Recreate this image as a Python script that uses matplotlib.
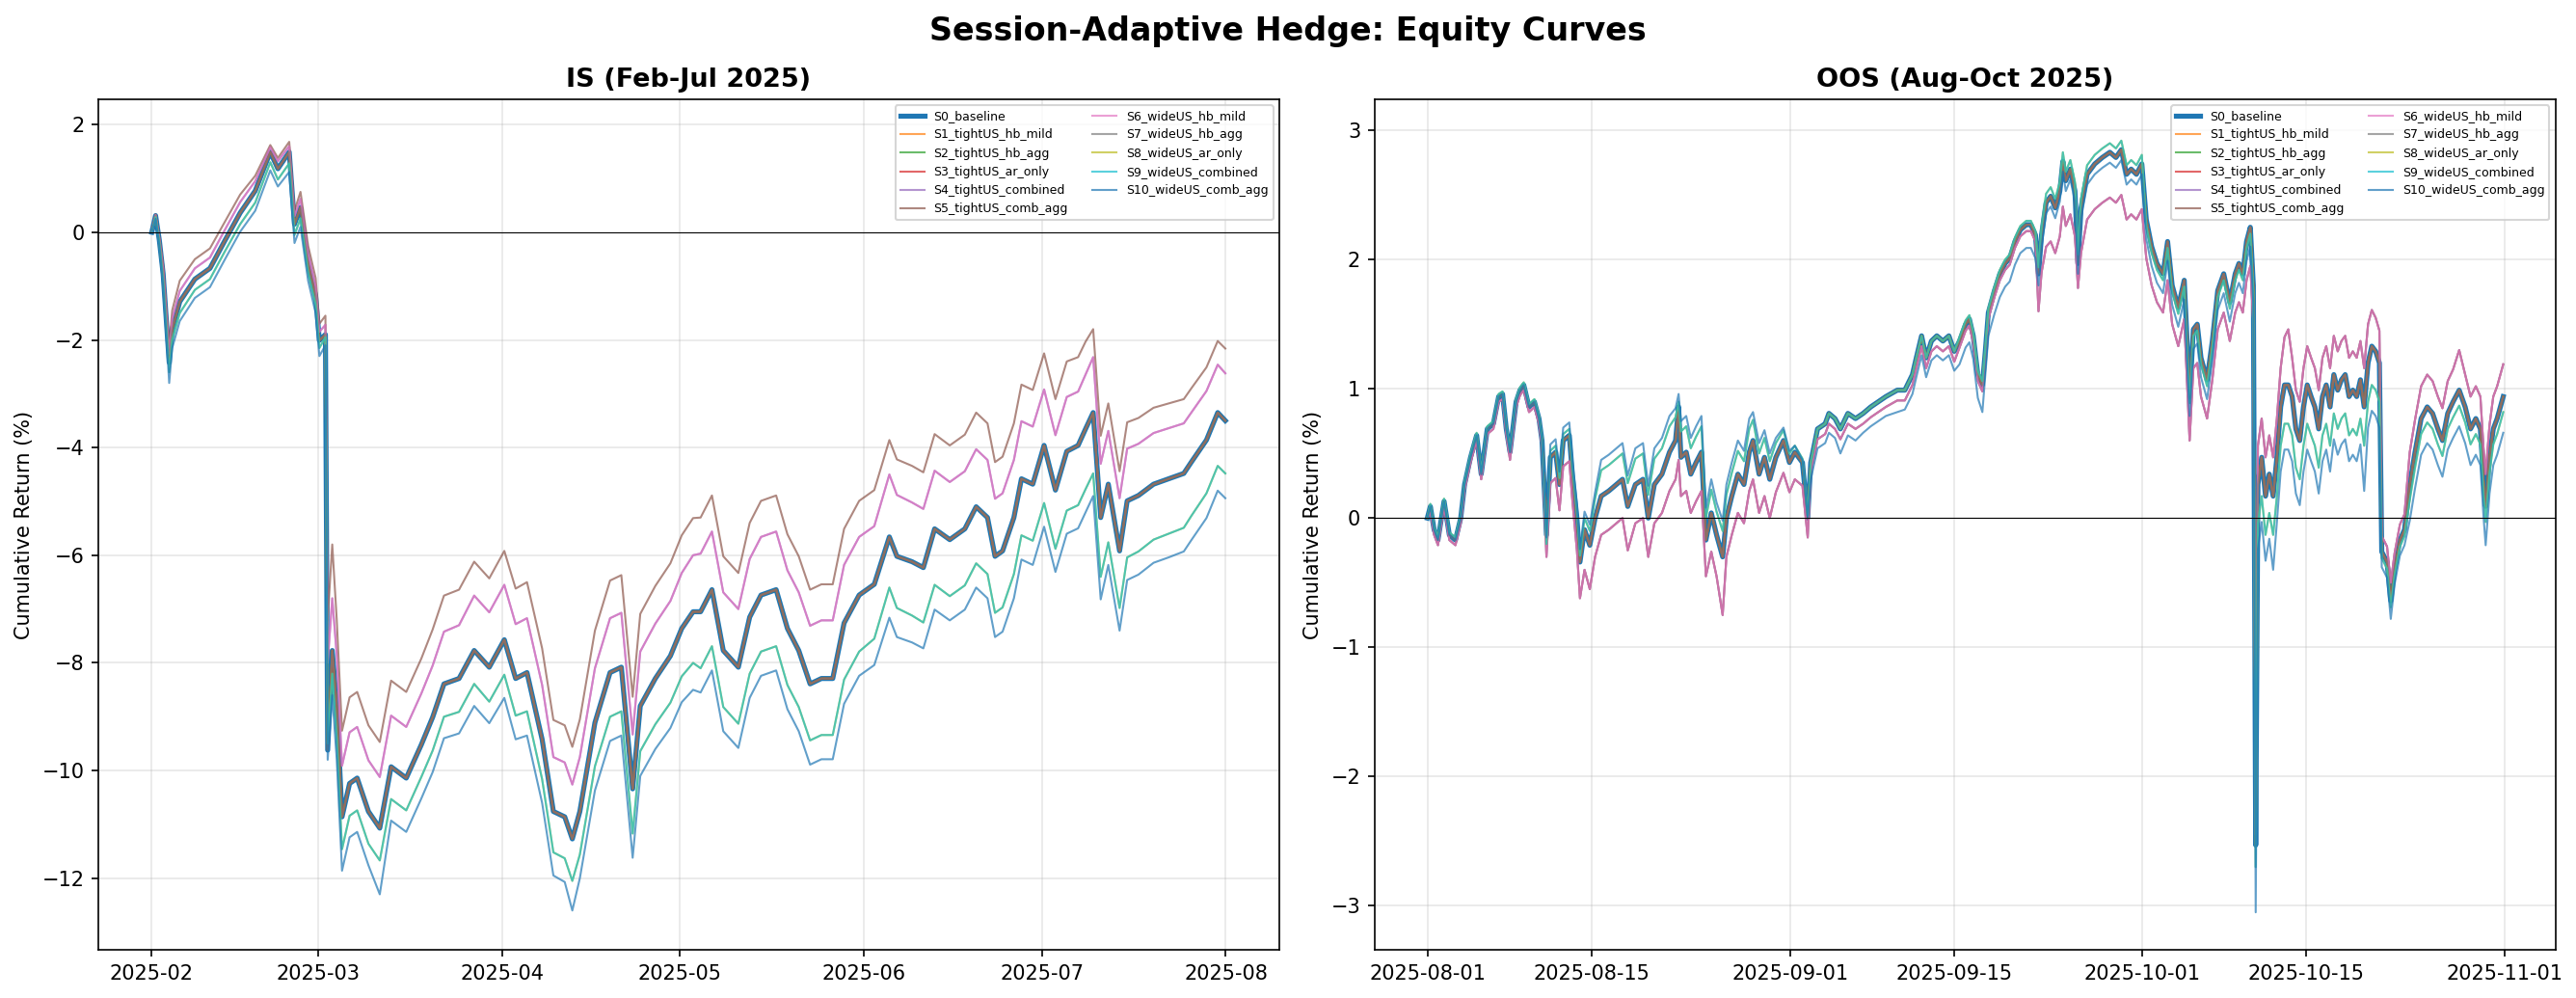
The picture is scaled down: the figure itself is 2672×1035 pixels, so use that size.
import matplotlib
matplotlib.use("Agg")
import matplotlib.pyplot as plt
import matplotlib.dates as mdates
import pandas as pd

# ---------------- IS data (days since 2025-02-01, cumulative return %) ----------------
is_days = [0, 0.64, 1.27, 1.91, 2.55, 2.93, 3.44, 4.71, 7.26, 9.80, 12.34, 14.89, 17.43, 19.97,
           21.25, 23.16, 24.05, 25.06, 26.34, 27.61, 28.24, 29.26, 29.64, 30.41, 31.17, 32.06,
           33.33, 34.61, 36.51, 38.42, 40.33, 42.88, 45.42, 47.33, 49.24, 51.78, 54.33, 56.87,
           59.41, 61.32, 63.23, 65.78, 67.68, 69.59, 70.87, 72.14, 74.68, 77.23, 79.13, 81.04,
           82.32, 84.86, 87.40, 89.31, 91.22, 92.49, 94.40, 96.31, 98.85, 100.76, 102.67, 105.22,
           107.12, 109.03, 110.94, 112.85, 114.76, 116.67, 119.21, 121.76, 124.30, 125.57, 128.12,
           130.03, 131.93, 134.48, 137.02, 138.93, 140.84, 142.11, 143.38, 145.29, 146.56, 148.47,
           150.38, 152.29, 154.20, 156.11, 157.38, 158.65, 159.92, 161.20, 163.10, 164.38, 166.28,
           168.83, 171.37, 173.92, 175.19, 177.74, 179.64, 180.92]
is_base = [0.00, 0.31, -0.15, -0.77, -1.80, -2.42, -1.80, -1.29, -0.87, -0.67, -0.15, 0.36, 0.77, 1.49,
           1.18, 1.49, 0.15, 0.46, -0.57, -1.18, -2.01, -1.90, -9.62, -7.77, -8.80, -10.86,
           -10.24, -10.14, -10.76, -11.07, -9.93, -10.14, -9.52, -9.01, -8.39, -8.29, -7.77, -8.08,
           -7.57, -8.29, -8.18, -9.42, -10.76, -10.86, -11.27, -10.76, -9.11, -8.18, -8.08, -10.34,
           -8.80, -8.29, -7.87, -7.36, -7.05, -7.05, -6.64, -7.77, -8.08, -7.15, -6.74, -6.64,
           -7.36, -7.77, -8.39, -8.29, -8.29, -7.26, -6.74, -6.54, -5.66, -6.02, -6.12,
           -6.23, -5.51, -5.71, -5.51, -5.10, -5.30, -6.02, -5.92, -5.30, -4.58, -4.68,
           -3.96, -4.79, -4.07, -3.96, -3.65, -3.35, -5.30, -4.68, -5.92, -4.99, -4.89,
           -4.68, -4.58, -4.48, -4.27, -3.86, -3.35, -3.50]
is_brown = [0.00, 0.33, -0.08, -0.60, -1.55, -2.10, -1.45, -0.90, -0.50, -0.30, 0.20, 0.70, 1.05, 1.62,
            1.38, 1.68, 0.40, 0.75, -0.25, -0.85, -1.70, -1.55, -7.20, -5.80, -7.20, -9.26,
            -8.64, -8.54, -9.16, -9.47, -8.33, -8.54, -7.92, -7.38, -6.75, -6.64, -6.12, -6.43,
            -5.92, -6.62, -6.50, -7.73, -9.06, -9.16, -9.56, -9.05, -7.40, -6.47, -6.37, -8.63,
            -7.09, -6.57, -6.15, -5.63, -5.31, -5.30, -4.89, -6.02, -6.33, -5.40, -4.99, -4.89,
            -5.61, -6.02, -6.64, -6.54, -6.54, -5.51, -4.99, -4.79, -3.86, -4.22, -4.34,
            -4.46, -3.75, -3.96, -3.76, -3.35, -3.55, -4.27, -4.17, -3.55, -2.83, -2.93,
            -2.25, -3.10, -2.40, -2.32, -2.03, -1.80, -3.78, -3.18, -4.44, -3.53, -3.45,
            -3.26, -3.18, -3.10, -2.90, -2.51, -2.02, -2.16]
is_magenta = [0.00, 0.32, -0.11, -0.67, -1.65, -2.25, -1.60, -1.09, -0.67, -0.47, 0.05, 0.56, 0.95, 1.58,
              1.32, 1.60, 0.30, 0.62, -0.40, -1.00, -1.85, -1.72, -8.00, -6.80, -7.85, -9.91,
              -9.29, -9.19, -9.81, -10.12, -8.98, -9.19, -8.57, -8.05, -7.42, -7.30, -6.75, -7.06,
              -6.55, -7.28, -7.17, -8.41, -9.75, -9.85, -10.26, -9.75, -8.10, -7.17, -7.07, -9.33,
              -7.79, -7.27, -6.85, -6.33, -6.00, -5.97, -5.56, -6.69, -7.00, -6.07, -5.66, -5.56,
              -6.28, -6.69, -7.31, -7.21, -7.21, -6.18, -5.66, -5.46, -4.50, -4.88, -5.02,
              -5.14, -4.43, -4.64, -4.44, -4.03, -4.23, -4.95, -4.85, -4.23, -3.51, -3.61,
              -2.92, -3.77, -3.06, -2.96, -2.64, -2.32, -4.30, -3.69, -4.94, -4.02, -3.93,
              -3.73, -3.64, -3.55, -3.35, -2.95, -2.46, -2.62]
is_teal = [0.00, 0.28, -0.20, -0.90, -1.95, -2.60, -2.00, -1.50, -1.07, -0.87, -0.35, 0.15, 0.55, 1.30,
           0.98, 1.28, -0.05, 0.26, -0.75, -1.35, -2.15, -1.95, -9.50, -8.20, -9.40, -11.46,
           -10.84, -10.74, -11.36, -11.67, -10.53, -10.74, -10.12, -9.63, -9.00, -8.91, -8.39, -8.72,
           -8.22, -8.98, -8.90, -10.16, -11.52, -11.63, -12.05, -11.56, -9.92, -9.00, -8.90, -11.17,
           -9.64, -9.14, -8.74, -8.25, -8.00, -8.10, -7.69, -8.82, -9.13, -8.20, -7.79, -7.69,
           -8.41, -8.82, -9.44, -9.34, -9.34, -8.31, -7.79, -7.55, -6.60, -6.98, -7.12,
           -7.25, -6.55, -6.76, -6.56, -6.15, -6.35, -7.07, -6.97, -6.35, -5.63, -5.73,
           -5.03, -5.88, -5.17, -5.07, -4.77, -4.48, -6.40, -5.76, -6.98, -6.04, -5.93,
           -5.71, -5.60, -5.49, -5.27, -4.85, -4.34, -4.48]
is_blue = [0.00, 0.25, -0.25, -1.00, -2.10, -2.80, -2.15, -1.65, -1.22, -1.02, -0.50, 0.01, 0.40, 1.15,
           0.85, 1.12, -0.20, 0.10, -0.90, -1.50, -2.30, -2.10, -9.80, -8.60, -9.80, -11.86,
           -11.24, -11.14, -11.76, -12.30, -10.93, -11.14, -10.52, -10.03, -9.40, -9.31, -8.80, -9.12,
           -8.65, -9.42, -9.35, -10.60, -11.95, -12.07, -12.60, -12.00, -10.37, -9.45, -9.35, -11.62,
           -10.10, -9.60, -9.21, -8.73, -8.50, -8.55, -8.14, -9.27, -9.58, -8.65, -8.24, -8.14,
           -8.86, -9.27, -9.89, -9.79, -9.79, -8.76, -8.24, -8.04, -7.16, -7.52, -7.62,
           -7.73, -7.01, -7.21, -7.01, -6.60, -6.80, -7.52, -7.42, -6.80, -6.08, -6.18,
           -5.47, -6.31, -5.60, -5.50, -5.20, -4.90, -6.82, -6.18, -7.40, -6.46, -6.36,
           -6.14, -6.04, -5.93, -5.72, -5.31, -4.80, -4.94]

# ---------------- OOS data (days since 2025-08-01, cumulative return %) ----------------
oos_days = [0.00, 0.26, 0.58, 0.91, 1.43, 1.88, 2.40, 2.85, 3.18, 3.69, 4.21, 4.60, 5.12, 5.64, 6.09,
            6.42, 6.74, 7.06, 7.58, 7.91, 8.23, 8.68, 9.14, 9.53, 9.79, 10.17, 10.50, 10.95, 11.28,
            11.60, 12.12, 12.38, 12.77, 13.03, 13.42, 13.87, 14.32, 14.84, 15.49, 16.14, 16.66,
            17.11, 17.76, 18.41, 18.86, 19.38, 20.03, 20.67, 21.19, 21.45, 21.65, 22.10, 22.49,
            22.94, 23.40, 23.78, 24.24, 24.69, 25.21, 25.53, 25.99, 26.51, 27.03, 27.48, 27.80,
            28.32, 28.78, 29.23, 29.75, 30.40, 30.91, 31.37, 32.02, 32.47, 32.73, 33.31, 33.96,
            34.28, 34.80, 35.26, 35.90, 36.55, 37.20, 37.85, 38.50, 39.14, 40.12, 40.76, 41.41,
            41.74, 42.19, 42.58, 43.03, 43.49, 44.01, 44.52, 44.98, 45.43, 45.95, 46.27, 46.60,
            46.99, 47.38, 47.63, 47.89, 48.41, 48.87, 49.32, 49.71, 50.16, 50.62, 51.13, 51.52,
            51.91, 52.17, 52.43, 52.82, 53.21, 53.60, 53.99, 54.25, 54.50, 54.89, 55.28, 55.54,
            55.80, 56.32, 56.97, 57.62, 58.26, 58.78, 59.24, 59.69, 60.08, 60.53, 60.99, 61.37,
            61.83, 62.28, 62.80, 63.19, 63.58, 64.10, 64.61, 65.07, 65.39, 65.72, 66.04, 66.56,
            67.01, 67.47, 67.98, 68.50, 68.96, 69.28, 69.61, 69.93, 70.25, 70.51, 70.71, 70.90,
            71.22, 71.55, 71.87, 72.20, 72.52, 72.84, 73.17, 73.49, 73.82, 74.14, 74.47, 74.79,
            75.11, 75.44, 75.76, 76.09, 76.41, 76.73, 77.06, 77.38, 77.71, 78.03, 78.35, 78.68,
            79.00, 79.33, 79.65, 79.97, 80.30, 80.62, 80.95, 81.27, 81.47, 81.92, 82.24, 82.57,
            83.02, 83.41, 83.86, 84.31, 84.83, 85.35, 85.81, 86.26, 86.65, 87.10, 87.56, 88.08,
            88.59, 89.05, 89.50, 89.89, 90.15, 90.34, 90.67, 90.99, 91.32, 91.84]
oos_base = [0.00, 0.09, -0.09, -0.17, 0.13, -0.13, -0.17, 0.00, 0.26, 0.47, 0.64, 0.34, 0.69, 0.73, 0.94,
            0.96, 0.69, 0.51, 0.90, 0.99, 1.03, 0.86, 0.90, 0.77, 0.60, -0.13, 0.47, 0.51, 0.26,
            0.60, 0.64, 0.34, 0.00, -0.34, -0.09, -0.21, 0.00, 0.17, 0.21, 0.26, 0.30,
            0.09, 0.26, 0.30, 0.00, 0.26, 0.34, 0.51, 0.60, 0.86, 0.47, 0.51, 0.34,
            0.43, 0.51, -0.17, 0.04, -0.13, -0.30, 0.00, 0.17, 0.34, 0.26, 0.51, 0.60,
            0.34, 0.47, 0.30, 0.47, 0.60, 0.43, 0.51, 0.43, 0.00, 0.43, 0.69, 0.73,
            0.81, 0.77, 0.69, 0.81, 0.77, 0.81, 0.86, 0.90, 0.94, 0.99, 0.99, 1.11,
            1.24, 1.41, 1.24, 1.37, 1.41, 1.37, 1.41, 1.29, 1.37, 1.50, 1.54, 1.41,
            1.11, 1.03, 1.29, 1.59, 1.76, 1.89, 1.97, 2.01, 2.14, 2.23, 2.27, 2.27,
            2.19, 1.89, 2.19, 2.44, 2.49, 2.40, 2.53, 2.76, 2.61, 2.70, 2.53, 1.97,
            2.40, 2.66, 2.74, 2.79, 2.83, 2.79, 2.85, 2.66, 2.70, 2.66, 2.74, 2.31,
            2.10, 1.97, 1.89, 2.14, 1.80, 1.63, 1.84, 0.94, 1.46, 1.50, 1.24, 1.07,
            1.37, 1.76, 1.89, 1.67, 1.89, 1.97, 1.89, 2.14, 2.25, 1.80, -2.53, 0.26,
            0.47, 0.17, 0.34, 0.17, 0.47, 0.86, 1.03, 1.03, 0.94, 0.69, 0.60, 0.86,
            1.03, 0.94, 0.86, 0.69, 0.94, 1.03, 0.86, 1.11, 0.99, 1.07, 1.11, 0.94,
            0.99, 0.94, 1.07, 0.86, 1.20, 1.33, 1.29, 1.20, -0.26, -0.34, -0.64, -0.39,
            -0.17, -0.09, 0.26, 0.51, 0.77, 0.86, 0.81, 0.69, 0.60, 0.81, 0.90, 0.99,
            0.86, 0.69, 0.77, 0.69, 0.30, 0.09, 0.47, 0.69, 0.77, 0.94]
oos_brown = [0.00, 0.05, -0.13, -0.21, 0.09, -0.17, -0.21, -0.04, 0.22, 0.43, 0.60, 0.30, 0.65, 0.69, 0.90,
             0.92, 0.65, 0.45, 0.86, 0.95, 0.99, 0.82, 0.86, 0.73, 0.56, -0.30, 0.27, 0.31, 0.06,
             0.40, 0.44, 0.14, -0.25, -0.62, -0.40, -0.55, -0.30, -0.13, -0.09, -0.04, 0.00,
             -0.25, -0.04, 0.00, -0.30, -0.04, 0.04, 0.21, 0.30, 0.45, 0.17, 0.21, 0.04,
             0.13, 0.21, -0.45, -0.26, -0.45, -0.75, -0.30, -0.13, 0.04, -0.04, 0.21, 0.30,
             0.04, 0.17, 0.00, 0.20, 0.35, 0.20, 0.30, 0.25, -0.15, 0.35, 0.61, 0.65,
             0.73, 0.69, 0.61, 0.73, 0.69, 0.73, 0.78, 0.82, 0.86, 0.91, 0.91, 1.03,
             1.16, 1.33, 1.16, 1.29, 1.33, 1.29, 1.33, 1.21, 1.32, 1.45, 1.49, 1.36,
             1.06, 0.98, 1.24, 1.54, 1.71, 1.84, 1.92, 1.96, 2.09, 2.18, 2.22, 2.22,
             2.14, 1.60, 1.90, 2.10, 2.14, 2.05, 2.18, 2.41, 2.26, 2.35, 2.18, 1.78,
             2.05, 2.31, 2.39, 2.44, 2.48, 2.44, 2.50, 2.31, 2.35, 2.31, 2.39, 2.01,
             1.80, 1.67, 1.59, 1.84, 1.50, 1.33, 1.54, 0.60, 1.16, 1.20, 0.94, 0.77,
             1.07, 1.46, 1.59, 1.37, 1.59, 1.67, 1.59, 1.84, 1.95, 1.50, -2.45, 0.56,
             0.77, 0.47, 0.64, 0.47, 0.77, 1.16, 1.40, 1.46, 1.24, 0.99, 0.90, 1.16,
             1.33, 1.24, 1.16, 0.99, 1.24, 1.33, 1.16, 1.41, 1.29, 1.37, 1.41, 1.24,
             1.29, 1.24, 1.37, 1.16, 1.50, 1.61, 1.55, 1.45, -0.14, -0.22, -0.50, -0.27,
             -0.05, 0.03, 0.51, 0.76, 1.02, 1.11, 1.06, 0.94, 0.85, 1.06, 1.15, 1.30,
             1.11, 0.94, 1.02, 0.94, 0.55, 0.34, 0.72, 0.94, 1.02, 1.19]
oos_teal = [0.00, 0.11, -0.07, -0.15, 0.15, -0.11, -0.15, 0.02, 0.28, 0.49, 0.66, 0.36, 0.71, 0.75, 0.96,
            0.98, 0.71, 0.53, 0.92, 1.01, 1.05, 0.88, 0.92, 0.79, 0.62, -0.20, 0.52, 0.56, 0.31,
            0.65, 0.69, 0.39, 0.05, -0.29, 0.00, -0.10, 0.15, 0.37, 0.41, 0.46, 0.50,
            0.27, 0.46, 0.50, 0.18, 0.46, 0.54, 0.71, 0.78, 0.90, 0.67, 0.71, 0.54,
            0.63, 0.71, 0.00, 0.22, 0.05, -0.10, 0.18, 0.35, 0.52, 0.44, 0.69, 0.76,
            0.50, 0.62, 0.44, 0.58, 0.68, 0.50, 0.56, 0.46, 0.02, 0.43, 0.69, 0.73,
            0.81, 0.77, 0.69, 0.81, 0.77, 0.81, 0.86, 0.90, 0.94, 0.99, 0.99, 1.11,
            1.24, 1.41, 1.24, 1.37, 1.41, 1.37, 1.41, 1.29, 1.40, 1.53, 1.57, 1.44,
            1.14, 1.06, 1.32, 1.62, 1.79, 1.92, 2.00, 2.04, 2.17, 2.26, 2.30, 2.30,
            2.22, 1.94, 2.25, 2.51, 2.56, 2.47, 2.60, 2.83, 2.68, 2.77, 2.60, 2.04,
            2.47, 2.73, 2.81, 2.86, 2.90, 2.86, 2.92, 2.73, 2.77, 2.73, 2.81, 2.26,
            2.05, 1.92, 1.84, 2.09, 1.75, 1.58, 1.79, 0.89, 1.41, 1.45, 1.19, 1.02,
            1.32, 1.71, 1.84, 1.62, 1.84, 1.92, 1.84, 2.09, 2.20, 1.75, -2.70, -0.04,
            0.17, -0.13, 0.04, -0.13, 0.17, 0.56, 0.73, 0.73, 0.64, 0.39, 0.30, 0.56,
            0.73, 0.64, 0.56, 0.39, 0.64, 0.73, 0.56, 0.81, 0.69, 0.77, 0.81, 0.64,
            0.69, 0.64, 0.77, 0.56, 0.90, 1.03, 0.99, 0.90, -0.31, -0.39, -0.69, -0.44,
            -0.22, -0.14, 0.14, 0.39, 0.65, 0.74, 0.69, 0.57, 0.48, 0.69, 0.78, 0.87,
            0.74, 0.57, 0.65, 0.57, 0.18, -0.03, 0.35, 0.57, 0.65, 0.82]
oos_blue = [0.00, 0.09, -0.09, -0.17, 0.13, -0.13, -0.17, 0.00, 0.26, 0.47, 0.64, 0.34, 0.69, 0.73, 0.94,
            0.96, 0.69, 0.51, 0.90, 0.99, 1.03, 0.86, 0.90, 0.77, 0.60, -0.15, 0.57, 0.61, 0.36,
            0.70, 0.74, 0.44, 0.10, -0.24, 0.05, -0.05, 0.20, 0.45, 0.49, 0.54, 0.58,
            0.33, 0.54, 0.58, 0.25, 0.54, 0.62, 0.79, 0.85, 0.96, 0.75, 0.79, 0.62,
            0.71, 0.79, 0.08, 0.30, 0.12, -0.02, 0.26, 0.43, 0.60, 0.52, 0.77, 0.82,
            0.58, 0.68, 0.50, 0.62, 0.70, 0.52, 0.56, 0.45, 0.00, 0.30, 0.54, 0.58,
            0.66, 0.62, 0.50, 0.64, 0.60, 0.66, 0.71, 0.75, 0.79, 0.82, 0.84, 0.96,
            1.09, 1.26, 1.09, 1.22, 1.26, 1.22, 1.26, 1.14, 1.19, 1.32, 1.36, 1.23,
            0.93, 0.82, 1.11, 1.41, 1.58, 1.71, 1.79, 1.83, 1.96, 2.05, 2.09, 2.09,
            2.01, 1.80, 2.10, 2.36, 2.41, 2.32, 2.45, 2.68, 2.53, 2.62, 2.45, 1.89,
            2.32, 2.58, 2.66, 2.71, 2.75, 2.71, 2.77, 2.58, 2.62, 2.58, 2.66, 2.16,
            1.95, 1.82, 1.74, 1.99, 1.65, 1.48, 1.69, 0.79, 1.31, 1.35, 1.09, 0.92,
            1.22, 1.61, 1.74, 1.52, 1.74, 1.82, 1.74, 1.99, 2.10, 1.65, -3.05, -0.24,
            -0.03, -0.33, -0.16, -0.40, -0.03, 0.36, 0.53, 0.53, 0.44, 0.19, 0.10, 0.36,
            0.53, 0.44, 0.36, 0.19, 0.44, 0.53, 0.36, 0.61, 0.49, 0.57, 0.61, 0.44,
            0.49, 0.44, 0.57, 0.21, 0.70, 0.83, 0.79, 0.70, -0.38, -0.46, -0.78, -0.51,
            -0.29, -0.21, -0.02, 0.23, 0.49, 0.58, 0.53, 0.41, 0.32, 0.53, 0.62, 0.71,
            0.58, 0.41, 0.49, 0.41, 0.02, -0.21, 0.19, 0.41, 0.49, 0.66]

series_names = ["S0_baseline", "S1_tightUS_hb_mild", "S2_tightUS_hb_agg", "S3_tightUS_ar_only",
                "S4_tightUS_combined", "S5_tightUS_comb_agg", "S6_wideUS_hb_mild", "S7_wideUS_hb_agg",
                "S8_wideUS_ar_only", "S9_wideUS_combined", "S10_wideUS_comb_agg"]

is_series = {
    "S0_baseline": is_base, "S1_tightUS_hb_mild": is_base, "S2_tightUS_hb_agg": is_base,
    "S3_tightUS_ar_only": is_base, "S4_tightUS_combined": is_magenta,
    "S5_tightUS_comb_agg": is_brown, "S6_wideUS_hb_mild": is_magenta,
    "S7_wideUS_hb_agg": is_base, "S8_wideUS_ar_only": is_teal,
    "S9_wideUS_combined": is_teal, "S10_wideUS_comb_agg": is_blue,
}
oos_series = {
    "S0_baseline": oos_base, "S1_tightUS_hb_mild": oos_base, "S2_tightUS_hb_agg": oos_base,
    "S3_tightUS_ar_only": oos_base, "S4_tightUS_combined": oos_brown,
    "S5_tightUS_comb_agg": oos_brown, "S6_wideUS_hb_mild": oos_brown,
    "S7_wideUS_hb_agg": oos_base, "S8_wideUS_ar_only": oos_teal,
    "S9_wideUS_combined": oos_teal, "S10_wideUS_comb_agg": oos_blue,
}

is_dates = pd.Timestamp("2025-02-01") + pd.to_timedelta(is_days, unit="D")
oos_dates = pd.Timestamp("2025-08-01") + pd.to_timedelta(oos_days, unit="D")

colors = plt.rcParams["axes.prop_cycle"].by_key()["color"]

fig, axes = plt.subplots(1, 2, figsize=(2672 / 150, 1035 / 150), dpi=150)
fig.subplots_adjust(left=0.0382, right=0.992, bottom=0.0483, top=0.9005, wspace=0.0808)

panels = [
    (axes[0], is_dates, is_series, "IS (Feb-Jul 2025)", (-13.33, 2.47),
     ("2025-01-23", "2025-08-10")),
    (axes[1], oos_dates, oos_series, "OOS (Aug-Oct 2025)", (-3.34, 3.24),
     ("2025-07-27 12:00", "2025-11-05 07:00")),
]

for ax, dates, series, title, ylim, xlim in panels:
    for i, name in enumerate(series_names):
        c = colors[i % len(colors)]
        if i == 0:
            ax.plot(dates, series[name], color=c, lw=2.5, alpha=1.0, label=name)
        else:
            ax.plot(dates, series[name], color=c, lw=1.0, alpha=0.7, label=name)
    ax.axhline(0, color="black", lw=0.5)
    ax.set_title(title, fontsize=13, fontweight="bold")
    ax.set_ylabel("Cumulative Return (%)", fontsize=10)
    ax.grid(True, alpha=0.3)
    ax.set_ylim(*ylim)
    ax.set_xlim(pd.Timestamp(xlim[0]), pd.Timestamp(xlim[1]))
    ax.legend(loc="upper right", fontsize=6, ncol=2)

axes[0].xaxis.set_major_locator(mdates.MonthLocator())
axes[0].xaxis.set_major_formatter(mdates.DateFormatter("%Y-%m"))
axes[1].xaxis.set_major_locator(mdates.DayLocator(bymonthday=[1, 15]))
axes[1].xaxis.set_major_formatter(mdates.DateFormatter("%Y-%m-%d"))

fig.suptitle("Session-Adaptive Hedge: Equity Curves", fontsize=16, fontweight="bold", y=0.985)

fig.savefig("out.png", dpi=150)
